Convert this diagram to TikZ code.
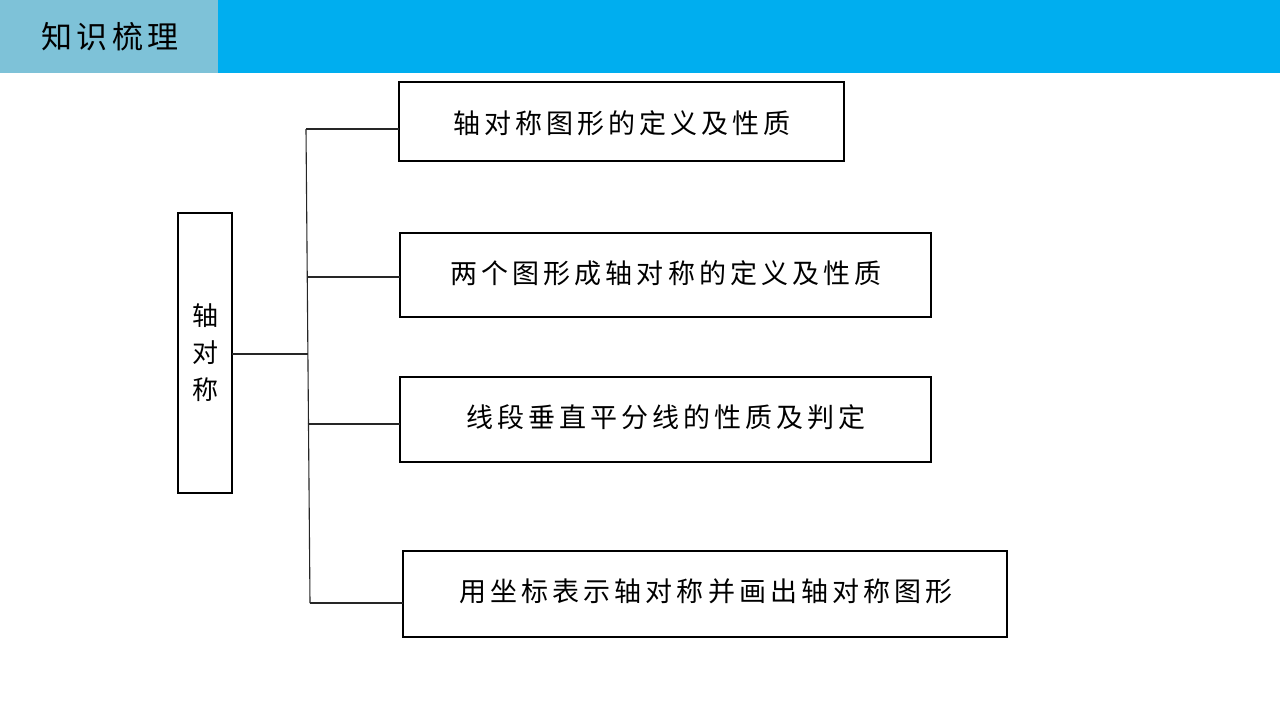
\documentclass[tikz,border=0pt]{standalone}
\usepackage{fontspec}
\newfontfamily\cjk[LetterSpace=15]{Noto Sans CJK SC}
\newfontfamily\cjktitle[LetterSpace=14]{Noto Sans CJK SC}
\newfontfamily\cjkplain{Noto Sans CJK SC}
\begin{document}
\begin{tikzpicture}[x=1pt,y=-1pt,
  box/.style={draw=black,line width=1.1pt,inner sep=0pt},
  lbl/.style={font=\cjk\fontsize{27}{32}\selectfont,text=black,inner sep=0pt},
  conn/.style={draw=black!85,line width=1.1pt}]
\useasboundingbox (0,0) rectangle (1280,720);
\fill[white] (0,0) rectangle (1280,720);
% header
\fill[fill={rgb,255:red,0;green,174;blue,239}] (218,0) rectangle (1280,73);
\fill[fill={rgb,255:red,126;green,194;blue,216}] (0,0) rectangle (218,73);
\node[font=\cjktitle\fontsize{31}{34}\selectfont,inner sep=0pt] (title) at (110,37) {知识梳理};
% left box
\draw[box] (178,213) rectangle (232,493);
\node[font=\cjkplain\fontsize{26}{37}\selectfont,align=center,inner sep=0pt] (root) at (205,353) {轴\\对\\称};
\coordinate (rootE) at (232,354);
% right boxes
\draw[box] (399,82) rectangle (844,161);
\node[lbl] (b1) at (622,123) {轴对称图形的定义及性质};
\draw[box] (400,233) rectangle (931,317);
\node[lbl] (b2) at (666,273) {两个图形成轴对称的定义及性质};
\draw[box] (400,377) rectangle (931,462);
\node[lbl] (b3) at (666,417) {线段垂直平分线的性质及判定};
\draw[box] (403,551) rectangle (1007,637);
\node[lbl] (b4) at (706,591) {用坐标表示轴对称并画出轴对称图形};
% connectors
\coordinate (t1) at (306,129);
\coordinate (t2) at (307,277);
\coordinate (tm) at (308,354);
\coordinate (t3) at (307.5,424);
\coordinate (t4) at (310,603);
\coordinate (e1) at (399,129);
\coordinate (e2) at (400,277);
\coordinate (e3) at (400,424);
\coordinate (e4) at (403,603);
\draw[conn] (t1) -- (t4);
\draw[conn] (rootE) -- (tm);
\draw[conn] (t1) -- (e1);
\draw[conn] (t2) -- (e2);
\draw[conn] (t3) -- (e3);
\draw[conn] (t4) -- (e4);
\end{tikzpicture}
\end{document}
